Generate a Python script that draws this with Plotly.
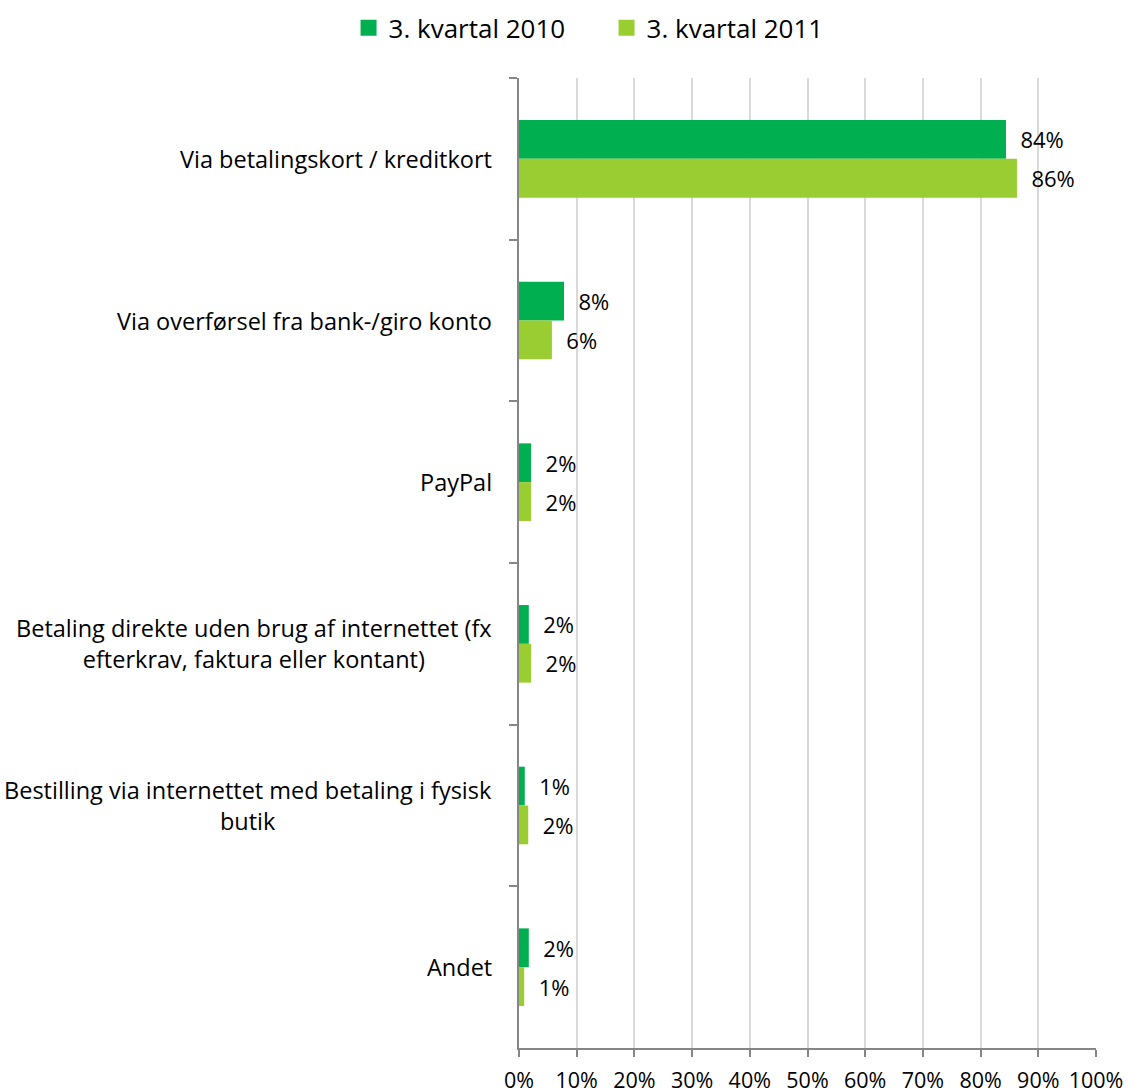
import plotly.graph_objects as go

# Payment methods for online purchases, share of respondents
categories = [
    "Via betalingskort / kreditkort",
    "Via overførsel fra bank-/giro konto",
    "PayPal",
    "Betaling direkte uden brug af internettet (fx<br>efterkrav, faktura eller kontant)",
    "Bestilling via internettet med betaling i fysisk<br>butik",
    "Andet",
]
series_names = ["3. kvartal 2010", "3. kvartal 2011"]
q3_2010 = [0.844, 0.078, 0.021, 0.017, 0.010, 0.017]
q3_2011 = [0.863, 0.057, 0.021, 0.021, 0.016, 0.009]
x_ticks = [0, 0.1, 0.2, 0.3, 0.4, 0.5, 0.6, 0.7, 0.8, 0.9, 1.0]

colors = ["#00B050", "#9ACD32"]
FONT = "Open Sans"
TEXT = "#000000"

fig = go.Figure()
for name, vals, col in zip(series_names, [q3_2010, q3_2011], colors):
    fig.add_trace(go.Bar(
        y=categories, x=vals, orientation="h", name=name,
        marker=dict(color=col, line=dict(width=0)),
        texttemplate="\u00a0\u00a0%{x:.0%}", textposition="outside",
        textfont=dict(family=FONT, size=22, color=TEXT),
        cliponaxis=False, showlegend=False, hoverinfo="x+y",
    ))
    # legend entry with a larger square swatch
    fig.add_trace(go.Scatter(
        x=[None], y=[None], mode="markers", name=name,
        marker=dict(symbol="square", size=16, color=col),
        showlegend=True, hoverinfo="skip",
    ))

# Category labels, centred line by line like the original spreadsheet chart
for cat in categories:
    fig.add_annotation(
        x=0, xref="paper", xanchor="right", xshift=-25,
        y=cat, yref="y", yanchor="middle",
        text=cat, showarrow=False, align="center",
        font=dict(family=FONT, size=23.5, color=TEXT),
    )

fig.update_layout(
    width=1128, height=1092,
    margin=dict(l=519, r=32, t=78, b=44),
    paper_bgcolor="white", plot_bgcolor="white",
    barmode="group", bargap=0.52, bargroupgap=0,
    font=dict(family=FONT, size=22, color=TEXT),
    legend=dict(
        orientation="h", xref="container", yref="container",
        x=0.309, xanchor="left", y=0.996, yanchor="top",
        font=dict(family=FONT, size=26, color=TEXT),
        entrywidth=213, itemsizing="trace",
    ),
    xaxis=dict(
        range=[0, 1], tickvals=x_ticks, tickformat=".0%",
        showgrid=True, gridcolor="#D9D9D9", gridwidth=2,
        showline=True, linecolor="#868686", linewidth=2,
        ticks="outside", ticklen=7, tickcolor="#868686", tickwidth=2,
        ticklabelstandoff=5, zeroline=False, automargin=False,
        tickfont=dict(family=FONT, size=21.5, color=TEXT),
    ),
    yaxis=dict(
        type="category", autorange="reversed",
        showgrid=False, showticklabels=False,
        showline=True, linecolor="#868686", linewidth=2,
        ticks="outside", ticklen=8, tickcolor="#868686", tickwidth=2,
        tickson="boundaries", zeroline=False, automargin=False,
    ),
)

fig.write_html("out.html")
